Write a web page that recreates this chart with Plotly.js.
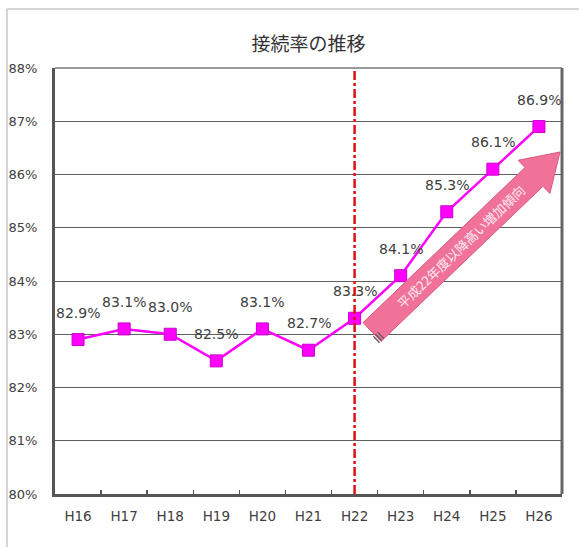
<!DOCTYPE html>
<html>
<head>
<meta charset="utf-8">
<script src="https://cdn.plot.ly/plotly-3.0.1.min.js"></script>
<style>html,body{margin:0;padding:0;background:#fff;}#chart{width:579px;height:547px;}</style>
</head>
<body>
<div id="chart"></div>
<script>
const categories = ["H16","H17","H18","H19","H20","H21","H22","H23","H24","H25","H26"];
const rates = [82.9, 83.1, 83.0, 82.5, 83.1, 82.7, 83.3, 84.1, 85.3, 86.1, 86.9];
const yTicks = [80, 81, 82, 83, 84, 85, 86, 87, 88];
const markerYear = "H22";
const titleText = "接続率の推移";
const arrowText = "平成22年度以降高い増加傾向";

const W = 579, H = 547;
const M = {l: 55, r: 17, t: 68, b: 53};
const PW = W - M.l - M.r, PH = H - M.t - M.b;
const px2x = px => (px - M.l) / PW;
const py2y = py => (H - M.b - py) / PH;

// arrow polygon (decoration) in pixel space
function arrowPath(x0, y0, x1, y1, sw, hw, hl) {
  const dx = x1 - x0, dy = y1 - y0, L = Math.hypot(dx, dy);
  const ux = dx / L, uy = dy / L, nx = -uy, ny = ux;
  const bx = x1 - ux * hl, by = y1 - uy * hl;
  const pts = [
    [x0 + nx * sw / 2, y0 + ny * sw / 2],
    [bx + nx * sw / 2, by + ny * sw / 2],
    [bx + nx * hw / 2, by + ny * hw / 2],
    [x1, y1],
    [bx - nx * hw / 2, by - ny * hw / 2],
    [bx - nx * sw / 2, by - ny * sw / 2],
    [x0 - nx * sw / 2, y0 - ny * sw / 2]
  ];
  return 'M ' + pts.map(p => px2x(p[0]).toFixed(4) + ',' + py2y(p[1]).toFixed(4)).join(' L ') + ' Z';
}
const aTail = [372, 332], aTip = [560, 152];

const trace = {
  x: categories,
  y: rates,
  type: 'scatter',
  mode: 'lines+markers',
  line: {color: '#ff00ff', width: 2.5},
  marker: {symbol: 'square', size: 12, color: '#ff00ff', line: {color: '#cc00cc', width: 1}},
  cliponaxis: false,
  hoverinfo: 'skip'
};

const shapes = [
  {type: 'line', xref: 'paper', yref: 'paper', x0: px2x(7), x1: px2x(7), y0: py2y(9), y1: py2y(547), line: {color: '#c8c8c8', width: 1.5}},
  {type: 'line', xref: 'paper', yref: 'paper', x0: px2x(7), x1: px2x(579), y0: py2y(9), y1: py2y(9), line: {color: '#c8c8c8', width: 1.5}},
  {type: 'line', xref: 'x', yref: 'paper', x0: markerYear, x1: markerYear, y0: 0, y1: 1, line: {color: '#dd1111', width: 2.5, dash: 'dashdot'}, layer: 'above'},
  {type: 'path', xref: 'paper', yref: 'paper', path: arrowPath(aTail[0], aTail[1], aTip[0], aTip[1], 26, 46, 36),
   fillcolor: '#f07299', line: {color: '#d85a80', width: 1}, layer: 'above'}
];
{
  const ux = (aTip[0] - aTail[0]), uy = (aTip[1] - aTail[1]);
  const L = Math.hypot(ux, uy), dx = ux / L, dy = uy / L, nx = -dy, ny = dx;
  for (let i = 0; i < 3; i++) {
    const off = i * 3 - 2;
    const cx = aTail[0] + dx * off, cy = aTail[1] + dy * off;
    shapes.push({type: 'line', xref: 'paper', yref: 'paper',
      x0: px2x(cx + nx * 4), y0: py2y(cy + ny * 4), x1: px2x(cx + nx * 13), y1: py2y(cy + ny * 13),
      line: {color: '#555', width: 1.2}, layer: 'above'});
  }
}

const angle = Math.atan2(aTip[1] - aTail[1], aTip[0] - aTail[0]) * 180 / Math.PI;

const labelAnnotations = categories.map((c, i) => ({
  x: c, y: rates[i], xref: 'x', yref: 'y',
  text: rates[i].toFixed(1) + '%', showarrow: false,
  xanchor: 'center', yanchor: 'middle', yshift: 27,
  font: {family: 'DejaVu Sans', size: 14, color: '#404040'}
}));

const layout = {
  width: W, height: H,
  margin: M,
  paper_bgcolor: '#ffffff',
  plot_bgcolor: '#ffffff',
  showlegend: false,
  title: {text: titleText, xref: 'paper', x: 0.5, xanchor: 'center', yref: 'container', y: 1 - 44 / H, yanchor: 'middle',
          font: {family: 'Noto Sans CJK JP', size: 19, color: '#333333'}},
  xaxis: {
    type: 'category',
    categoryarray: categories,
    range: [-0.5, categories.length - 0.5],
    showgrid: false,
    showline: true, linecolor: '#555555', linewidth: 3,
    mirror: false,
    ticks: 'inside', tickson: 'boundaries', ticklen: 4, tickcolor: '#555555', tickwidth: 1.5,
    tickfont: {family: 'DejaVu Sans', size: 13.5, color: '#404040'},
    ticklabelstandoff: 8,
    fixedrange: true
  },
  yaxis: {
    range: [80, 88],
    tickvals: yTicks,
    ticktext: yTicks.map(v => v + '%'),
    showgrid: true, gridcolor: '#606060', gridwidth: 1,
    showline: true, linecolor: '#555555', linewidth: 3,
    zeroline: false,
    ticks: '',
    tickfont: {family: 'DejaVu Sans', size: 13, color: '#404040'},
    ticklabelstandoff: 12,
    fixedrange: true
  },
  shapes: shapes.concat([
    {type: 'line', xref: 'paper', yref: 'paper', x0: 1, x1: 1, y0: 0, y1: 1, line: {color: '#666666', width: 3}},
    {type: 'line', xref: 'paper', yref: 'paper', x0: 0, x1: 1, y0: 1, y1: 1, line: {color: '#777777', width: 1.5}}
  ]),
  annotations: labelAnnotations.concat([{
    xref: 'paper', yref: 'paper',
    x: px2x((aTail[0] + aTip[0]) / 2 - 5), y: py2y((aTail[1] + aTip[1]) / 2 + 5),
    xanchor: 'center', yanchor: 'middle',
    text: arrowText, showarrow: false, textangle: angle,
    font: {family: 'Noto Sans CJK JP', size: 13, color: '#ffe8f0'}
  }])
};

Plotly.newPlot('chart', [trace], layout, {displayModeBar: false, staticPlot: true});
</script>
</body>
</html>
